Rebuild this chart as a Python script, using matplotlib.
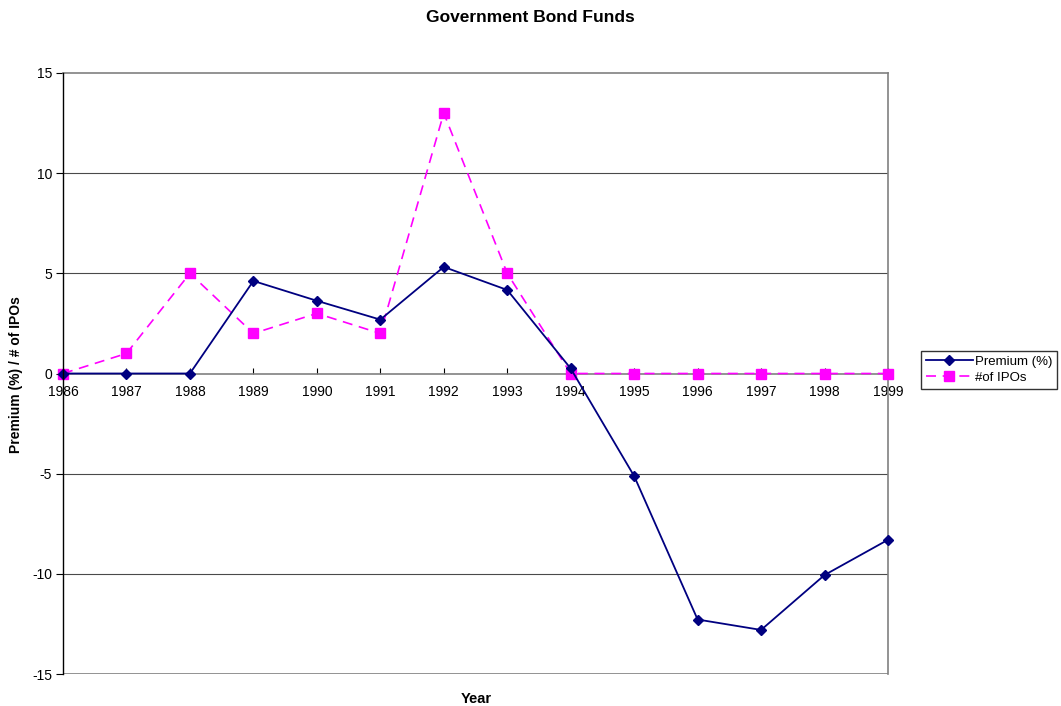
import matplotlib
matplotlib.use("Agg")
import matplotlib.pyplot as plt

plt.rcParams['font.family'] = ['Liberation Sans', 'DejaVu Sans']

years = ['1986', '1987', '1988', '1989', '1990', '1991', '1992',
         '1993', '1994', '1995', '1996', '1997', '1998', '1999']
premium = [0, 0, 0, 4.62, 3.63, 2.69, 5.32, 4.17, 0.25, -5.12,
           -12.28, -12.8, -10.06, -8.3]
ipos = [0, 1, 5, 2, 3, 2, 13, 5, 0, 0, 0, 0, 0, 0]
y_ticks = [-15, -10, -5, 0, 5, 10, 15]

W, H = 1061, 706
fig = plt.figure(figsize=(W / 100, H / 100), dpi=100)
ax = fig.add_axes([63 / W, 1 - 674 / H, (888 - 63) / W, (674 - 73) / H])

x = list(range(len(years)))

# horizontal gridlines and bottom frame edge
for yv in [-10, -5, 5, 10]:
    ax.axhline(yv, color='#4a4a4a', lw=0.8, zorder=1)
ax.axhline(-15, color='#808080', lw=1.2, zorder=1)

ax.plot(x, premium, color='#000080', lw=1.3, marker='D', markersize=5.5,
        markerfacecolor='#000080', markeredgecolor='#000080', zorder=4,
        label='Premium (%)', clip_on=False)
ax.plot(x, ipos, color='#FF00FF', lw=1.2, dashes=(6, 4), marker='s',
        markersize=7, markerfacecolor='#FF00FF', markeredgecolor='#FF00FF',
        zorder=3, label='#of IPOs', clip_on=False)

ax.set_xlim(0, len(years) - 1)
ax.set_ylim(-15, 15)
ax.set_xticks(x)
ax.set_xticklabels(years, fontsize=10)
ax.set_yticks(y_ticks)
ax.set_yticklabels([str(v) for v in y_ticks], fontsize=10)

# category axis crosses at zero
ax.spines['bottom'].set_position(('data', 0))
ax.spines['bottom'].set_color('#808080')
ax.spines['bottom'].set_linewidth(1.2)
ax.spines['top'].set_color('#808080')
ax.spines['top'].set_linewidth(1.2)
ax.spines['right'].set_color('#808080')
ax.spines['right'].set_linewidth(1.2)
ax.spines['left'].set_color('black')
ax.spines['left'].set_linewidth(1.0)
ax.spines['left'].set_zorder(5)

ax.tick_params(axis='x', direction='in', length=4, color='black', pad=8)
ax.tick_params(axis='y', direction='out', length=5, color='black', pad=3)

fig.text(530 / W, 1 - 18 / H, 'Government Bond Funds', ha='center',
         va='center', fontsize=12.5, fontweight='bold')
fig.text(476 / W, 1 - 699 / H, 'Year', ha='center', va='center',
         fontsize=10.5, fontweight='bold')
fig.text(16 / W, 1 - 375 / H, 'Premium (%) / # of IPOs', ha='center',
         va='center', rotation=90, fontsize=10, fontweight='bold')

leg = fig.legend(loc='upper left', bbox_to_anchor=(921 / W, 1 - 351 / H),
                 fontsize=9.5, frameon=True, fancybox=False, handlelength=3.6,
                 borderpad=0.35, labelspacing=0.3, handletextpad=0.15,
                 borderaxespad=0)
leg.get_frame().set_edgecolor('black')
leg.get_frame().set_linewidth(1.0)

fig.savefig('out.png', dpi=100)
